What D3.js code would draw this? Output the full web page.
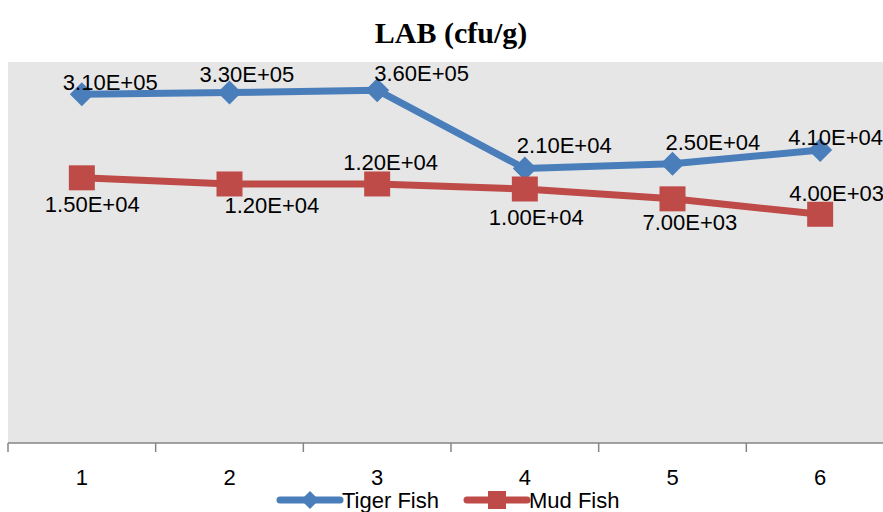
<!DOCTYPE html>
<html>
<head>
<meta charset="utf-8">
<script src="https://cdn.jsdelivr.net/npm/d3@7"></script>
<style>
  body { margin: 0; background: #fff; }
  svg { display: block; }
</style>
</head>
<body>
<svg id="chart" width="883" height="512"></svg>
<script>
// chart data
const categories = ["1", "2", "3", "4", "5", "6"];
const tigerFish = [3.1e5, 3.3e5, 3.6e5, 2.1e4, 2.5e4, 4.1e4];
const mudFish = [1.5e4, 1.2e4, 1.2e4, 1.0e4, 7.0e3, 4.0e3];
const tigerLabels = ["3.10E+05", "3.30E+05", "3.60E+05", "2.10E+04", "2.50E+04", "4.10E+04"];
const mudLabels = ["1.50E+04", "1.20E+04", "1.20E+04", "1.00E+04", "7.00E+03", "4.00E+03"];

// label placement (hand placed in the original)
const tigerLabelDx = [-19, -30, -3, -8, -7, -32];
const tigerLabelDy = [-12, -18, -17, -23, -21, -13];
const mudLabelDx = [-37, -5, -34, -36, -30, -31];
const mudLabelDy = [27, 22, -21, 28, 24, -21];

const blue = "#4a7ebb", red = "#be4b48";
const font = "'Liberation Sans', Arial, sans-serif";

const svg = d3.select("#chart");
const plot = {left: 8, right: 894, top: 62, bottom: 443};

svg.append("text")
    .attr("x", 451)
    .attr("y", 43)
    .attr("text-anchor", "middle")
    .attr("font-family", "'Liberation Serif', 'Times New Roman', serif")
    .attr("font-weight", "bold")
    .attr("font-size", 30)
    .text("LAB (cfu/g)");

svg.append("rect")
    .attr("x", plot.left)
    .attr("y", plot.top)
    .attr("width", plot.right - plot.left)
    .attr("height", plot.bottom - plot.top)
    .attr("fill", "#e6e6e6");

const x = d3.scaleBand().domain(categories).range([plot.left, plot.right]);
const y = d3.scaleLog().domain([1, 1e6]).range([plot.bottom, plot.top]);
const cx = c => x(c) + x.bandwidth() / 2;

// x axis: labels centred, ticks at the category boundaries
const axis = svg.append("g")
    .attr("transform", `translate(0,${plot.bottom})`)
    .call(d3.axisBottom(x).tickSize(0).tickPadding(26));
axis.select(".domain").remove();
axis.selectAll("text")
    .attr("font-family", font)
    .attr("font-size", 22)
    .attr("fill", "#000");

svg.append("line")
    .attr("x1", plot.left).attr("x2", plot.right)
    .attr("y1", plot.bottom).attr("y2", plot.bottom)
    .attr("stroke", "#868686").attr("stroke-width", 1.5);
svg.selectAll(".tick-mark")
    .data(categories.concat(["end"]))
    .join("line")
    .attr("class", "tick-mark")
    .attr("x1", d => d === "end" ? plot.right : x(d))
    .attr("x2", d => d === "end" ? plot.right : x(d))
    .attr("y1", plot.bottom)
    .attr("y2", plot.bottom + 9)
    .attr("stroke", "#868686").attr("stroke-width", 1.5);

const line = d3.line()
    .x((d, i) => cx(categories[i]))
    .y(d => y(d));

const diamond = s => `M0,${-s}L${s},0L0,${s}L${-s},0Z`;

const series = [
    {values: tigerFish, labels: tigerLabels, dx: tigerLabelDx, dy: tigerLabelDy, color: blue, marker: "diamond"},
    {values: mudFish, labels: mudLabels, dx: mudLabelDx, dy: mudLabelDy, color: red, marker: "square"}
];

series.forEach(s => {
    svg.append("path")
        .datum(s.values)
        .attr("d", line)
        .attr("fill", "none")
        .attr("stroke", s.color)
        .attr("stroke-width", 7)
        .attr("stroke-linejoin", "round");

    const marks = svg.append("g").selectAll("path")
        .data(s.values)
        .join("path")
        .attr("transform", (d, i) => `translate(${cx(categories[i])},${y(d)})`)
        .attr("fill", s.color);
    if (s.marker === "diamond") marks.attr("d", diamond(12));
    else marks.attr("d", "M-13,-12.5H13V12.5H-13Z");
});

series.forEach(s => {
    svg.append("g").selectAll("text")
        .data(s.values)
        .join("text")
        .attr("x", (d, i) => cx(categories[i]) + s.dx[i])
        .attr("y", (d, i) => y(d) + s.dy[i])
        .attr("dominant-baseline", "central")
        .attr("font-family", font)
        .attr("font-size", 22)
        .attr("fill", "#000")
        .text((d, i) => s.labels[i]);
});

// legend
const legend = svg.append("g").attr("transform", "translate(0,500)");
const legendItems = [
    {name: "Tiger Fish", color: blue, marker: "diamond", x: 280},
    {name: "Mud Fish", color: red, marker: "square", x: 467}
];
legendItems.forEach(item => {
    const g = legend.append("g").attr("transform", `translate(${item.x},0)`);
    g.append("line")
        .attr("x1", 0).attr("x2", 60)
        .attr("stroke", item.color)
        .attr("stroke-width", 7)
        .attr("stroke-linecap", "round");
    g.append("path")
        .attr("transform", "translate(30,0)")
        .attr("d", item.marker === "diamond" ? diamond(9) : "M-9,-9H9V9H-9Z")
        .attr("fill", item.color);
    g.append("text")
        .attr("x", 62)
        .attr("dominant-baseline", "central")
        .attr("font-family", font)
        .attr("font-size", 22)
        .text(item.name);
});
</script>
</body>
</html>
